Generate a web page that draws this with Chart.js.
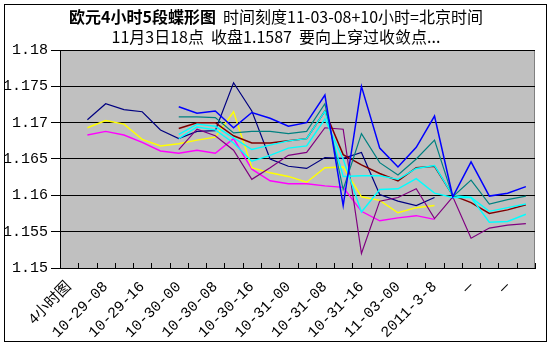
<!DOCTYPE html>
<html>
<head>
<meta charset="utf-8">
<script src="https://cdn.jsdelivr.net/npm/chart.js@4/dist/chart.umd.min.js"></script>
<style>
  html, body { margin: 0; padding: 0; background: #ffffff; }
  #wrap { width: 551px; height: 347px; }
</style>
</head>
<body>
<div id="wrap"><canvas id="c" width="551" height="347"></canvas></div>
<script>
// 4-hour bars; only every other slot carries a printed label
const categories = [
  '4小时图', '', '10-29-08', '', '10-29-16', '', '10-30-00', '', '10-30-08', '',
  '10-30-16', '', '10-31-00', '', '10-31-08', '', '10-31-16', '', '11-03-00', '',
  '2011-3-8', '', '—', '', '—', ''
];

const yTicks = [1.15, 1.155, 1.16, 1.165, 1.17, 1.175, 1.18];

const titleBold = '欧元4小时5段蝶形图';
const titleRest = '  时间刻度11-03-08+10小时=北京时间';
const subtitle = '11月3日18点  收盘1.1587  要向上穿过收敛点...';

const _ = null;

// first band: runs from the 2nd to the 21st bar
const navy = [_, 1.1704, 1.1726, 1.1718, 1.1715, 1.1690, 1.1678, 1.1688, 1.1689, 1.1755,
  1.1716, 1.1650, 1.1640, 1.1637, 1.1652, 1.1651, 1.1659, 1.1601, 1.1592, 1.1586,
  1.1597, _, _, _, _, _];
const yellow = [_, 1.1693, 1.1703, 1.1698, 1.1677, 1.1668, 1.1671, 1.1676, 1.1680, 1.1715,
  1.1638, 1.1631, 1.1626, 1.1618, 1.1638, 1.1639, 1.1598, 1.1593, 1.1576, 1.1583,
  1.1586, _, _, _, _, _];
const magenta = [_, 1.1683, 1.1688, 1.1683, 1.1673, 1.1661, 1.1658, 1.1662, 1.1658, 1.1678,
  1.1636, 1.1620, 1.1616, 1.1616, 1.1613, 1.1611, 1.1578, 1.1565, 1.1569, 1.1572,
  1.1567, _, _, _, _, _];

// second band: runs from the 7th bar to the last
const blue = [_, _, _, _, _, _, 1.1722, 1.1713, 1.1716, 1.1693,
  1.1714, 1.1706, 1.1695, 1.1700, 1.1738, 1.1586, 1.1750, 1.1665, 1.1639, 1.1666,
  1.1709, 1.1598, 1.1646, 1.1599, 1.1603, 1.1612];
const teal = [_, _, _, _, _, _, 1.1708, 1.1708, 1.1707, 1.1686,
  1.1688, 1.1688, 1.1685, 1.1688, 1.1726, 1.1608, 1.1685, 1.1645, 1.1628, 1.1650,
  1.1676, 1.1598, 1.1621, 1.1588, 1.1594, 1.1599];
const maroon = [_, _, _, _, _, _, 1.1692, 1.1700, 1.1700, 1.1682,
  1.1672, 1.1672, 1.1675, 1.1678, 1.1716, 1.1656, 1.1642, 1.1630, 1.1620, 1.1638,
  1.1640, 1.1600, 1.1590, 1.1575, 1.1580, 1.1587];
const cyanA = [_, _, _, _, _, _, 1.1684, 1.1698, 1.1695, 1.1679,
  1.1663, 1.1669, 1.1675, 1.1678, 1.1716, 1.1626, 1.1627, 1.1627, 1.1622, 1.1637,
  1.1641, 1.1600, 1.1597, 1.1578, 1.1583, 1.1588];
const cyanB = [_, _, _, _, _, _, 1.1678, 1.1694, 1.1690, 1.1672,
  1.1647, 1.1655, 1.1665, 1.1668, 1.1705, 1.1650, 1.1577, 1.1608, 1.1609, 1.1623,
  1.1603, 1.1597, 1.1597, 1.1563, 1.1564, 1.1574];
const purple = [_, _, _, _, _, _, 1.1663, 1.1691, 1.1682, 1.1662,
  1.1622, 1.1638, 1.1655, 1.1659, 1.1693, 1.1691, 1.1520, 1.1592, 1.1597, 1.1609,
  1.1568, 1.1598, 1.1541, 1.1555, 1.1559, 1.1561];

function line(label, data, color, width) {
  return {
    label, data,
    borderColor: color, backgroundColor: color,
    borderWidth: width, pointRadius: 0, pointHoverRadius: 0,
    tension: 0, spanGaps: false, fill: false
  };
}

// Frame, title, plot-area fill and inside tick marks on the category axis
const decor = {
  id: 'decor',
  beforeDraw(chart) {
    const { ctx, chartArea: a } = chart;
    ctx.save();
    ctx.fillStyle = '#ffffff';
    ctx.fillRect(0, 0, chart.width, chart.height);
    ctx.strokeStyle = '#000000';
    ctx.lineWidth = 1;
    ctx.strokeRect(4.5, 4.5, chart.width - 9, chart.height - 10);
    ctx.fillStyle = '#c0c0c0';
    ctx.fillRect(a.left, a.top, a.right - a.left, a.bottom - a.top);
    ctx.strokeStyle = '#808080';
    ctx.strokeRect(a.left + 0.5, a.top + 0.5, a.right - a.left - 1, a.bottom - a.top);

    // title lines
    ctx.fillStyle = '#000000';
    ctx.textBaseline = 'middle';
    const fam = '"Noto Sans CJK SC", sans-serif';
    ctx.font = 'bold 16px ' + fam;
    const w1 = ctx.measureText(titleBold).width;
    ctx.font = '16px ' + fam;
    const w2 = ctx.measureText(titleRest).width;
    const x0 = 276 - (w1 + w2) / 2;
    ctx.textAlign = 'left';
    ctx.font = 'bold 16px ' + fam;
    ctx.fillText(titleBold, x0, 17);
    ctx.font = '16px ' + fam;
    ctx.fillText(titleRest, x0 + w1, 17);
    ctx.textAlign = 'center';
    ctx.fillText(subtitle, 276, 37);
    ctx.restore();
  },
  afterDatasetsDraw(chart) {
    const { ctx, chartArea: a } = chart;
    const xs = chart.scales.x;
    const half = (xs.getPixelForValue(1) - xs.getPixelForValue(0)) / 2;
    ctx.save();
    ctx.strokeStyle = '#000000';
    ctx.lineWidth = 1;
    ctx.beginPath();
    for (let i = 0; i <= categories.length; i++) {
      const x = Math.round(xs.getPixelForValue(i) - half) + 0.5;
      ctx.moveTo(x, a.bottom);
      ctx.lineTo(x, a.bottom - 5);
    }
    ctx.stroke();
    ctx.restore();
  }
};

new Chart(document.getElementById('c'), {
  type: 'line',
  data: {
    labels: categories,
    datasets: [
      line('blue', blue, '#0000ff', 1.5),
      line('teal', teal, '#008080', 1.2),
      line('cyanA', cyanA, '#00ffff', 1.4),
      line('cyanB', cyanB, '#00ffff', 1.4),
      line('maroon', maroon, '#800000', 1.5),
      line('purple', purple, '#800080', 1.2),
      line('yellow', yellow, '#ffff00', 1.4),
      line('magenta', magenta, '#ff00ff', 1.4),
      line('navy', navy, '#000080', 1.2)
    ]
  },
  options: {
    responsive: false,
    animation: false,
    events: [],
    layout: { padding: { top: 50, right: 16, bottom: 6, left: 0 } },
    plugins: { legend: { display: false }, tooltip: { enabled: false }, title: { display: false } },
    scales: {
      x: {
        type: 'category',
        offset: true,
        grid: { display: false, offset: true },
        border: { display: true, color: '#000000', width: 1 },
        ticks: {
          autoSkip: false,
          maxRotation: 45, minRotation: 45,
          padding: 2,
          color: '#000000',
          font: { family: '"Liberation Mono", "Noto Sans CJK SC", monospace', size: 15 }
        },
        afterFit(s) { s.height = 347 - 268 - 6; }
      },
      y: {
        min: 1.15, max: 1.18,
        afterBuildTicks(s) { s.ticks = yTicks.map(v => ({ value: v })); },
        grid: { color: '#000000', lineWidth: 1, tickLength: 9, drawTicks: true },
        border: { display: true, color: '#000000', width: 1 },
        ticks: {
          padding: 3,
          color: '#000000',
          font: { family: '"Liberation Mono", monospace', size: 15 },
          callback: v => String(Number(v.toFixed(3)))
        },
        afterFit(s) { s.width = 60; }
      }
    }
  },
  plugins: [decor]
});
</script>
</body>
</html>
